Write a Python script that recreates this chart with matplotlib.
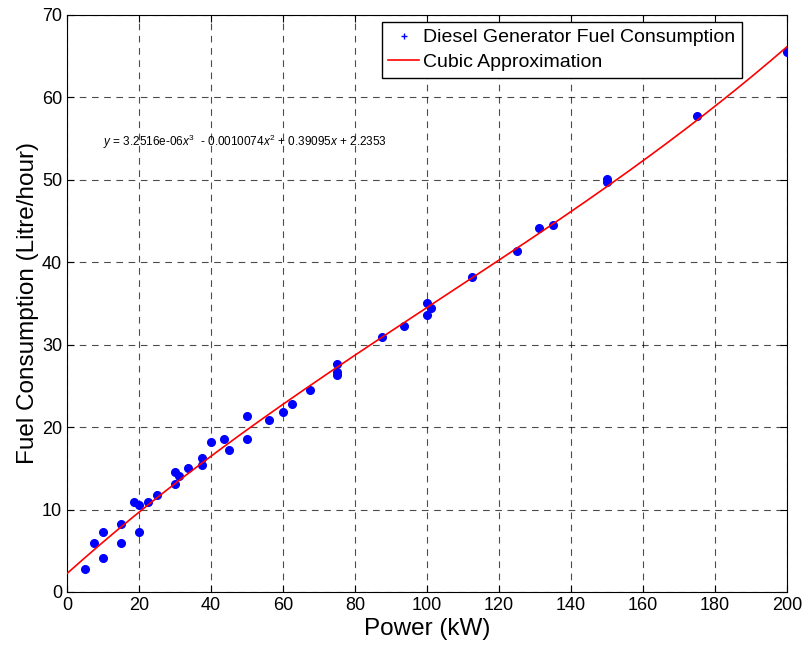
import numpy as np
import matplotlib.pyplot as plt
import matplotlib as mpl

mpl.rc('font', **{'family': 'sans-serif', 'sans-serif': ['Liberation Sans', 'DejaVu Sans']})
mpl.rc('mathtext', fontset='custom', rm='Liberation Sans', it='Liberation Sans:italic')

# measured generator load (kW) and fuel use (litre/hour)
power = [5, 7.5, 10, 10, 15, 15, 18.75, 20, 20, 22.5, 25, 30, 30, 31.25, 33.75,
         37.5, 37.5, 40, 43.75, 45, 50, 50, 56.25, 60, 62.5, 67.5, 75, 75, 75,
         87.5, 93.75, 100, 100, 101.25, 112.5, 125, 131.25, 135, 150, 150, 175, 200]
fuel = [2.8, 5.9, 7.3, 4.1, 8.2, 5.9, 10.9, 10.5, 7.3, 10.9, 11.8, 14.5, 13.1, 14.1, 15.0,
        16.3, 15.4, 18.2, 18.6, 17.2, 21.3, 18.6, 20.9, 21.8, 22.8, 24.5, 27.7, 26.7, 26.3,
        30.9, 32.3, 35.0, 33.6, 34.5, 38.2, 41.4, 44.1, 44.5, 50.1, 49.7, 57.7, 65.5]

# cubic fit coefficients shown on the chart
coeffs = [3.2516e-06, -0.0010074, 0.39095, 2.2353]

fig = plt.figure(figsize=(8.03, 6.46), dpi=100)
ax = fig.add_axes([0.0834, 0.0836, 0.8966, 0.8932])

xs = np.linspace(0, 200, 400)
ax.plot(power, fuel, 'o', color='blue', markersize=5.5, zorder=3)
ax.plot(power, fuel, '+', color='blue', markersize=5, mew=1, zorder=4,
        label='Diesel Generator Fuel Consumption')
ax.plot(xs, np.polyval(coeffs, xs), '-', color='red', lw=1.2, zorder=5,
        label='Cubic Approximation')

ax.text(10, 54.6, r'$y$ = 3.2516e-06$x^3$  - 0.0010074$x^2$ + 0.39095$x$ + 2.2353',
        fontsize=8.5, va='center', ha='left')

ax.set_xlim(0, 200)
ax.set_ylim(0, 70)
ax.set_xticks(np.arange(0, 201, 20))
ax.set_yticks(np.arange(0, 71, 10))
ax.grid(True, color='black', linestyle=(0, (6, 5)), linewidth=0.8, alpha=0.7)
ax.tick_params(direction='in', top=True, right=True, labelsize=13, length=5)
ax.set_xlabel('Power (kW)', fontsize=17.5, labelpad=3)
ax.set_ylabel('Fuel Consumption (Litre/hour)', fontsize=17.5, labelpad=2)

leg = ax.legend(loc='upper right', bbox_to_anchor=(0.938, 0.988), fontsize=14,
                fancybox=False, edgecolor='black', framealpha=1,
                handlelength=1.6, handletextpad=0.2, borderpad=0.35,
                labelspacing=0.35, borderaxespad=0)
leg.get_frame().set_linewidth(1)

fig.savefig('out.png', dpi=100)
